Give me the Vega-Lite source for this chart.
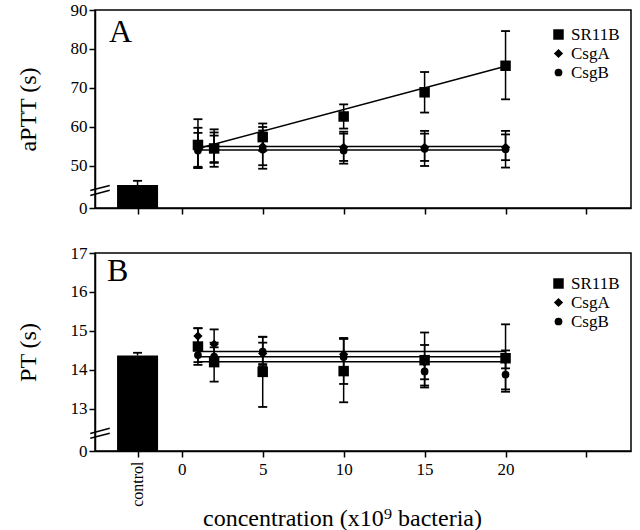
{
  "$schema": "https://vega.github.io/schema/vega-lite/v6.json",
  "padding": {"top": 0, "left": 15, "right": 4, "bottom": 0},
  "background": "white",
  "config": {
    "font": "Liberation Serif",
    "view": {"stroke": "black", "strokeWidth": 1.5},
    "axis": {"domainColor": "black", "domainWidth": 1.5, "tickColor": "black", "tickWidth": 1.5, "tickSize": 6, "labelColor": "black", "labelFontSize": 17, "titleColor": "black", "titleFontSize": 24, "titleFontWeight": "normal", "grid": false, "labelFont": "Liberation Serif", "titleFont": "Liberation Serif"},
    "legend": {"labelFont": "Liberation Serif", "labelFontSize": 17, "labelColor": "black"},
    "concat": {"spacing": 26}
  },
  "datasets": {
    "a_points": [
      {"series": "SR11B", "x": 1, "y": 55.4, "lo": 49.5, "hi": 62.0},
      {"series": "SR11B", "x": 2, "y": 54.5, "lo": 49.8, "hi": 59.4},
      {"series": "SR11B", "x": 5, "y": 57.4, "lo": 53.9, "hi": 60.9},
      {"series": "SR11B", "x": 10, "y": 62.7, "lo": 59.6, "hi": 65.8},
      {"series": "SR11B", "x": 15, "y": 68.9, "lo": 63.7, "hi": 74.1},
      {"series": "SR11B", "x": 20, "y": 75.7, "lo": 67.1, "hi": 84.6},
      {"series": "CsgA", "x": 1, "y": 54.6, "lo": 49.8, "hi": 59.8},
      {"series": "CsgA", "x": 2, "y": 54.8, "lo": 51.0, "hi": 58.6},
      {"series": "CsgA", "x": 5, "y": 55.0, "lo": 50.2, "hi": 60.0},
      {"series": "CsgA", "x": 10, "y": 54.8, "lo": 51.3, "hi": 58.3},
      {"series": "CsgA", "x": 15, "y": 54.8, "lo": 51.3, "hi": 58.3},
      {"series": "CsgA", "x": 20, "y": 54.8, "lo": 51.5, "hi": 58.1},
      {"series": "CsgB", "x": 1, "y": 54.0, "lo": 49.5, "hi": 58.5},
      {"series": "CsgB", "x": 2, "y": 54.3, "lo": 50.8, "hi": 57.8},
      {"series": "CsgB", "x": 5, "y": 54.2, "lo": 49.3, "hi": 59.1},
      {"series": "CsgB", "x": 10, "y": 54.0, "lo": 50.6, "hi": 58.8},
      {"series": "CsgB", "x": 15, "y": 54.4, "lo": 50.0, "hi": 59.0},
      {"series": "CsgB", "x": 20, "y": 54.3, "lo": 49.6, "hi": 59.0}
    ],
    "a_fit": [
      {"series": "SR11B", "x": 1, "y": 54.5},
      {"series": "SR11B", "x": 20, "y": 75.6},
      {"series": "CsgA", "x": 1, "y": 55.0},
      {"series": "CsgA", "x": 20, "y": 55.0},
      {"series": "CsgB", "x": 1, "y": 54.1},
      {"series": "CsgB", "x": 20, "y": 54.1}
    ],
    "a_control": [{"x": -2.73, "y": 45.1, "hi": 46.2}],
    "a_break": [{"x": -5.05, "y": 44.4}],
    "b_points": [
      {"series": "SR11B", "x": 1, "y": 14.6, "lo": 14.13, "hi": 15.07},
      {"series": "SR11B", "x": 2, "y": 14.2, "lo": 13.7, "hi": 14.7},
      {"series": "SR11B", "x": 5, "y": 13.95, "lo": 13.05, "hi": 14.85},
      {"series": "SR11B", "x": 10, "y": 13.97, "lo": 13.17, "hi": 14.8},
      {"series": "SR11B", "x": 15, "y": 14.25, "lo": 13.55, "hi": 14.96},
      {"series": "SR11B", "x": 20, "y": 14.3, "lo": 13.44, "hi": 15.17},
      {"series": "CsgA", "x": 1, "y": 14.87, "lo": 14.67, "hi": 15.07},
      {"series": "CsgA", "x": 2, "y": 14.66, "lo": 14.28, "hi": 15.04},
      {"series": "CsgA", "x": 5, "y": 14.42, "lo": 14.15, "hi": 14.7},
      {"series": "CsgA", "x": 10, "y": 14.4, "lo": 13.98, "hi": 14.82},
      {"series": "CsgA", "x": 15, "y": 14.2, "lo": 13.76, "hi": 14.64},
      {"series": "CsgA", "x": 20, "y": 14.27, "lo": 14.04, "hi": 14.5},
      {"series": "CsgB", "x": 1, "y": 14.38, "lo": 14.2, "hi": 14.56},
      {"series": "CsgB", "x": 2, "y": 14.34, "lo": 14.1, "hi": 14.58},
      {"series": "CsgB", "x": 5, "y": 14.47, "lo": 14.1, "hi": 14.85},
      {"series": "CsgB", "x": 10, "y": 14.33, "lo": 13.64, "hi": 14.8},
      {"series": "CsgB", "x": 15, "y": 13.96, "lo": 13.6, "hi": 14.32},
      {"series": "CsgB", "x": 20, "y": 13.88, "lo": 13.5, "hi": 14.26}
    ],
    "b_fit": [
      {"series": "SR11B", "x": 1, "y": 14.21},
      {"series": "SR11B", "x": 20, "y": 14.21},
      {"series": "CsgA", "x": 1, "y": 14.47},
      {"series": "CsgA", "x": 20, "y": 14.47},
      {"series": "CsgB", "x": 1, "y": 14.34},
      {"series": "CsgB", "x": 20, "y": 14.34}
    ],
    "b_control": [{"x": -2.73, "y": 14.37, "hi": 14.44}],
    "b_break": [{"x": -5.05, "y": 12.44}]
  },
  "vconcat": [
    {
      "width": 536,
      "height": 198,
      "title": {"text": "A", "anchor": "start", "frame": "group", "orient": "top", "offset": -48, "dx": 14, "fontSize": 32, "fontWeight": "normal", "font": "Liberation Serif", "color": "black"},
      "encoding": {
        "x": {"type": "quantitative", "scale": {"domain": [-5.05, 27.44], "nice": false, "zero": false},
              "axis": {"title": null, "labels": false, "values": [-2.73, 0, 5, 10, 15, 20, 25]}},
        "y": {"type": "quantitative", "scale": {"domain": [39.23, 90], "nice": false, "zero": false},
              "axis": {"title": "aPTT (s)", "titlePadding": 30, "values": [39.23, 50, 60, 70, 80, 90], "labelExpr": "datum.value < 45 ? '0' : datum.label"}}
      },
      "layer": [
        {"data": {"name": "a_control"}, "mark": {"type": "bar", "color": "black", "size": 41},
         "encoding": {"x": {"field": "x"}, "y": {"field": "y"}, "y2": {"datum": 39.23}}},
        {"data": {"name": "a_control"}, "mark": {"type": "rule", "color": "black", "strokeWidth": 1.5},
         "encoding": {"x": {"field": "x"}, "y": {"field": "y"}, "y2": {"field": "hi"}}},
        {"data": {"name": "a_control"}, "mark": {"type": "tick", "orient": "horizontal", "color": "black", "size": 9, "thickness": 1.8, "opacity": 1},
         "encoding": {"x": {"field": "x"}, "y": {"field": "hi"}}},
        {"data": {"name": "a_break"}, "mark": {"type": "point", "shape": "M-1,0.28L1,-0.25M-1,0.78L1,0.25", "filled": false, "stroke": "black", "strokeWidth": 1.5, "size": 380, "opacity": 1, "clip": false},
         "encoding": {"x": {"field": "x"}, "y": {"field": "y"}}},
        {"data": {"name": "a_fit"}, "mark": {"type": "line", "color": "black", "strokeWidth": 1.5},
         "encoding": {"x": {"field": "x"}, "y": {"field": "y"}, "detail": {"field": "series"}}},
        {"data": {"name": "a_points"}, "mark": {"type": "rule", "color": "black", "strokeWidth": 1.5},
         "encoding": {"x": {"field": "x"}, "y": {"field": "lo"}, "y2": {"field": "hi"}}},
        {"data": {"name": "a_points"}, "mark": {"type": "tick", "orient": "horizontal", "color": "black", "size": 9, "thickness": 1.8, "opacity": 1},
         "encoding": {"x": {"field": "x"}, "y": {"field": "lo"}}},
        {"data": {"name": "a_points"}, "mark": {"type": "tick", "orient": "horizontal", "color": "black", "size": 9, "thickness": 1.8, "opacity": 1},
         "encoding": {"x": {"field": "x"}, "y": {"field": "hi"}}},
        {"data": {"name": "a_points"}, "mark": {"type": "point", "filled": true, "color": "black", "opacity": 1},
         "encoding": {
           "x": {"field": "x"}, "y": {"field": "y"},
           "shape": {"field": "series", "type": "nominal", "scale": {"domain": ["SR11B", "CsgA", "CsgB"], "range": ["square", "diamond", "circle"]},
                     "legend": {"title": null, "orient": "none", "legendX": 455, "legendY": 16, "symbolFillColor": "black", "symbolStrokeWidth": 0, "rowPadding": 1, "padding": 0}},
           "size": {"field": "series", "type": "nominal", "scale": {"domain": ["SR11B", "CsgA", "CsgB"], "range": [110, 60, 100]},
                    "legend": {"title": null, "orient": "none", "legendX": 455, "legendY": 16, "symbolFillColor": "black", "symbolStrokeWidth": 0, "rowPadding": 1, "padding": 0}}
         }}
      ]
    },
    {
      "width": 536,
      "height": 198,
      "title": {"text": "B", "anchor": "start", "frame": "group", "orient": "top", "offset": -44, "dx": 12, "fontSize": 32, "fontWeight": "normal", "font": "Liberation Serif", "color": "black"},
      "encoding": {
        "x": {"type": "quantitative", "scale": {"domain": [-5.05, 27.44], "nice": false, "zero": false},
              "axis": {"title": "concentration (x10⁹ bacteria)", "titleX": 247, "titlePadding": 0, "values": [-2.73, 0, 5, 10, 15, 20, 25], "labelPadding": 4,
                       "labelExpr": "datum.value < -1 ? 'control' : (datum.value > 22 ? '' : datum.label)",
                       "labelAngle": {"expr": "datum.value < -1 ? -90 : 0"},
                       "labelFontSize": {"condition": {"test": "datum.value < -1", "value": 16}, "value": 17},
                       "labelAlign": {"condition": {"test": "datum.value < -1", "value": "right"}, "value": "center"},
                       "labelBaseline": {"condition": {"test": "datum.value < -1", "value": "middle"}, "value": "top"}}},
        "y": {"type": "quantitative", "scale": {"domain": [11.92, 17], "nice": false, "zero": false},
              "axis": {"title": "PT (s)", "titlePadding": 30, "values": [11.92, 13, 14, 15, 16, 17], "labelExpr": "datum.value < 12.5 ? '0' : datum.label"}}
      },
      "layer": [
        {"data": {"name": "b_control"}, "mark": {"type": "bar", "color": "black", "size": 41},
         "encoding": {"x": {"field": "x"}, "y": {"field": "y"}, "y2": {"datum": 11.92}}},
        {"data": {"name": "b_control"}, "mark": {"type": "rule", "color": "black", "strokeWidth": 1.5},
         "encoding": {"x": {"field": "x"}, "y": {"field": "y"}, "y2": {"field": "hi"}}},
        {"data": {"name": "b_control"}, "mark": {"type": "tick", "orient": "horizontal", "color": "black", "size": 9, "thickness": 1.8, "opacity": 1},
         "encoding": {"x": {"field": "x"}, "y": {"field": "hi"}}},
        {"data": {"name": "b_break"}, "mark": {"type": "point", "shape": "M-1,0.28L1,-0.25M-1,0.78L1,0.25", "filled": false, "stroke": "black", "strokeWidth": 1.5, "size": 380, "opacity": 1, "clip": false},
         "encoding": {"x": {"field": "x"}, "y": {"field": "y"}}},
        {"data": {"name": "b_fit"}, "mark": {"type": "line", "color": "black", "strokeWidth": 1.5},
         "encoding": {"x": {"field": "x"}, "y": {"field": "y"}, "detail": {"field": "series"}}},
        {"data": {"name": "b_points"}, "mark": {"type": "rule", "color": "black", "strokeWidth": 1.5},
         "encoding": {"x": {"field": "x"}, "y": {"field": "lo"}, "y2": {"field": "hi"}}},
        {"data": {"name": "b_points"}, "mark": {"type": "tick", "orient": "horizontal", "color": "black", "size": 9, "thickness": 1.8, "opacity": 1},
         "encoding": {"x": {"field": "x"}, "y": {"field": "lo"}}},
        {"data": {"name": "b_points"}, "mark": {"type": "tick", "orient": "horizontal", "color": "black", "size": 9, "thickness": 1.8, "opacity": 1},
         "encoding": {"x": {"field": "x"}, "y": {"field": "hi"}}},
        {"data": {"name": "b_points"}, "mark": {"type": "point", "filled": true, "color": "black", "opacity": 1},
         "encoding": {
           "x": {"field": "x"}, "y": {"field": "y"},
           "shape": {"field": "series", "type": "nominal", "scale": {"domain": ["SR11B", "CsgA", "CsgB"], "range": ["square", "diamond", "circle"]},
                     "legend": {"title": null, "orient": "none", "legendX": 455, "legendY": 22, "symbolFillColor": "black", "symbolStrokeWidth": 0, "rowPadding": 1, "padding": 0}},
           "size": {"field": "series", "type": "nominal", "scale": {"domain": ["SR11B", "CsgA", "CsgB"], "range": [110, 60, 100]},
                    "legend": {"title": null, "orient": "none", "legendX": 455, "legendY": 22, "symbolFillColor": "black", "symbolStrokeWidth": 0, "rowPadding": 1, "padding": 0}}
         }}
      ]
    }
  ],
  "resolve": {"scale": {"shape": "independent", "size": "independent"}, "legend": {"shape": "independent", "size": "independent"}}
}
